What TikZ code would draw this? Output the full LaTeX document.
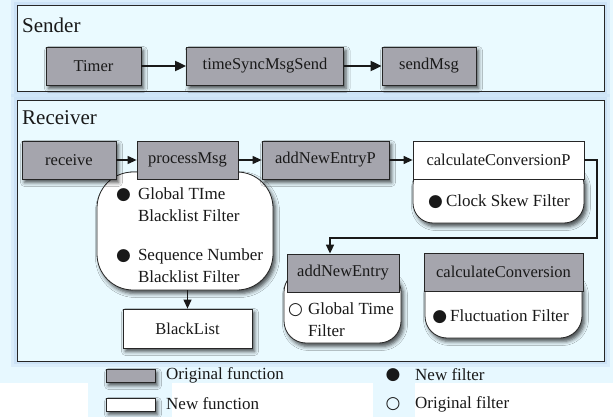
\documentclass[tikz,border=0pt]{standalone}
\usepackage{fontspec}
\setmainfont{Liberation Serif}
\newfontfamily\labelserif{Liberation Serif}
\newfontfamily\markfont{DejaVu Sans}
\usetikzlibrary{arrows.meta,shadows.blur}
\definecolor{paneblue}{HTML}{E7F8FF}
\definecolor{framefill}{HTML}{EAFAFF}
\definecolor{glowblue}{HTML}{BCD6F2}
\definecolor{origgray}{HTML}{A5A5AD}
\definecolor{edge}{HTML}{262626}
% filter markers
\newcommand\newfilt{{\markfont\char"25CF}}
\newcommand\origfilt{{\markfont\char"25CB}}
\begin{document}
\begin{tikzpicture}[x=1pt,y=-1pt,
  fn/.style={draw=edge, line width=0.8pt, minimum height=38pt, inner sep=0pt,
    font=\labelserif\fontsize{16.5}{19}\selectfont, text=black!90},
  orig/.style={fn, fill=origgray},
  newfn/.style={fn, fill=white},
  shade/.style={blur shadow={shadow xshift=2.5pt, shadow yshift=-3.5pt,
    shadow blur radius=4pt, shadow opacity=70}},
  filterbody/.style={draw=edge, line width=0.8pt, fill=white, inner sep=0pt,
    rounded corners=22pt},
  filtertext/.style={inner sep=0pt, font=\labelserif\fontsize{17}{22}\selectfont, text=black!90},
  frame/.style={draw=edge, line width=0.9pt, fill=framefill, inner sep=0pt,
    preaction={draw=glowblue, line width=12pt, opacity=0.3},
    preaction={draw=glowblue, line width=6pt, opacity=0.45}},
  title/.style={inner sep=0pt, font=\labelserif\fontsize{21}{25}\selectfont, text=black!90},
  legendtext/.style={inner sep=0pt, font=\labelserif\fontsize{17}{20}\selectfont, text=black!90},
  bigarrow/.style={-{Triangle[length=11pt,width=10pt]}, line width=2pt, draw=black!90},
  smallarrow/.style={-{Triangle[length=9pt,width=8pt]}, line width=1.2pt, draw=black!90},
  linkarrow/.style={-{Triangle[length=9pt,width=8pt]}, line width=1.6pt, draw=black!90},
]
\useasboundingbox (0,0) rectangle (613,417);

% page background
\fill[white] (0,0) rectangle (613,417);
\fill[paneblue] (0,0) rectangle (613,383);
\fill[paneblue] (88,383) rectangle (172,417);
\fill[paneblue] (373,383) rectangle (415,417);

% ---- Sender ----
\node[frame, minimum width=587pt, minimum height=86pt] (sender) at (310.5,48) {};
\node[title, anchor=base west] (sendertitle) at (22,33) {Sender};
\node[orig, shade, minimum width=95pt] (timer) at (93.5,66) {Timer};
\node[orig, shade, minimum width=157pt] (tsms) at (265,66) {timeSyncMsgSend};
\node[orig, shade, minimum width=94pt] (sendmsg) at (429,66) {sendMsg};
\draw[bigarrow] (timer) -- (tsms);
\draw[bigarrow] (tsms) -- (sendmsg);

% ---- Receiver ----
\node[frame, minimum width=587pt, minimum height=261pt] (receiver) at (310.5,230.5) {};
\node[title, anchor=base west] (receivertitle) at (22,125) {Receiver};

% filter bodies below their function headers
\node[filterbody, shade, rounded corners=36pt, minimum width=176pt, minimum height=118pt] (blob) at (185,231) {};
\node[filterbody, shade, rounded corners=20pt, minimum width=171pt, minimum height=58pt] (ccpbody) at (498.5,194) {};
\node[filterbody, shade, minimum width=117pt, minimum height=73pt] (anebody) at (342.5,306.5) {};
\node[filterbody, shade, minimum width=157pt, minimum height=68pt] (ccbody) at (503.5,304) {};

% function headers
\node[orig, shade, minimum width=94pt] (receive) at (69,160) {receive};
\node[orig, minimum width=101pt] (procmsg) at (187.5,160) {processMsg};
\node[orig, shade, minimum width=127pt] (anep) at (325.5,160) {addNewEntryP};
\node[newfn, minimum width=171pt] (ccp) at (498.5,160) {calculateConversionP};
\node[orig, minimum width=112pt] (ane) at (343,273) {addNewEntry};
\node[orig, minimum width=159pt] (cc) at (503.5,272) {calculateConversion};
\node[newfn, shade, minimum width=129pt, minimum height=39pt] (blacklist) at (187.5,328.5) {BlackList};

% filter texts
\node[filtertext, anchor=west] (blobtext) at (116,236.5) {%
  \begin{tabular}{@{}l@{\hspace{7pt}}l@{}}
    \newfilt & Global TIme\\
             & Blacklist Filter\\[17pt]
    \newfilt & Sequence Number\\
             & Blacklist Filter
  \end{tabular}};
\node[filtertext] (skewtext) at (499,202) {\newfilt\hspace{3pt}Clock Skew Filter};
\node[filtertext, anchor=west] (globaltext) at (288,321.5) {%
  \begin{tabular}{@{}l@{\hspace{5pt}}l@{}}
    \origfilt & Global Time\\
              & Filter
  \end{tabular}};
\node[filtertext] (fluctext) at (500.5,317) {\newfilt\hspace{3pt}Fluctuation Filter};

% receiver connectors
\draw[smallarrow] (receive) -- (procmsg);
\draw[smallarrow] (procmsg) -- (anep);
\draw[smallarrow] (anep) -- (ccp);
\coordinate (bend) at (597,238);
\draw[linkarrow] (ccp.east) -| (bend) -| ([xshift=-13pt]ane.north);
\draw[smallarrow] (blacklist.north |- blob.south) -- (blacklist.north);

% ---- legend ----
\node[orig, shade, minimum width=49pt, minimum height=13pt] (lgorig) at (130.5,375.5) {};
\node[newfn, shade, minimum width=49pt, minimum height=13pt] (lgnew) at (130.5,404.5) {};
\node[legendtext, anchor=west] (lgorigtext) at (166,375) {Original function};
\node[legendtext, anchor=west] (lgnewtext) at (166,404) {New function};
\node[legendtext] (lgnf) at (393,375) {\newfilt};
\node[legendtext] (lgof) at (393,404) {\origfilt};
\node[legendtext, anchor=west] (lgnftext) at (415,375) {New filter};
\node[legendtext, anchor=west] (lgoftext) at (415,404) {Original filter};
\end{tikzpicture}
\end{document}
